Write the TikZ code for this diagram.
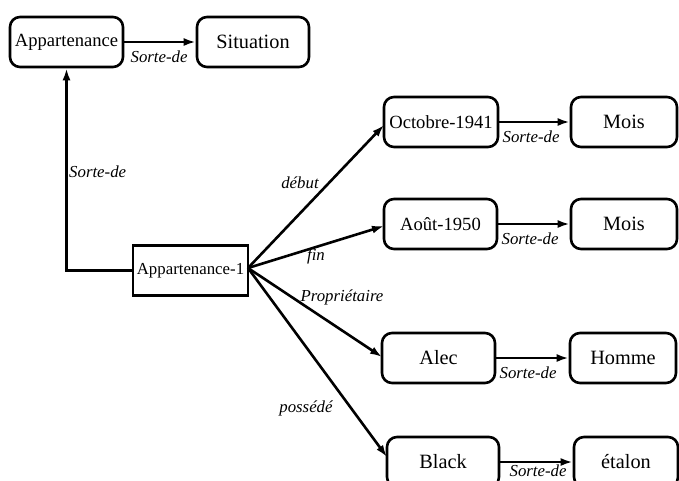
\documentclass[tikz,border=0pt]{standalone}
\usepackage{fontspec}
\setmainfont{Liberation Serif}
\usetikzlibrary{arrows.meta}
\begin{document}
\begin{tikzpicture}[x=1pt,y=-1pt,
  box/.style={draw,line width=2.6pt,minimum height=50pt,inner sep=0pt},
  concept/.style={box,rounded corners=10pt},
  instance/.style={box},
  longtxt/.style={font=\fontsize{18.6}{20}\selectfont},
  shorttxt/.style={font=\fontsize{20.3}{22}\selectfont},
  rel/.style={line width=2.6pt,-{Latex[length=12pt,width=8pt]}},
  lbl/.style={font=\fontsize{16.8}{18}\selectfont\itshape,inner sep=0pt}]
\useasboundingbox (0,0) rectangle (679,480);
% concept and instance boxes
\node[concept,longtxt,minimum width=113pt] (app) at (66.5,42) {Appartenance};
\node[concept,shorttxt,minimum width=112pt] (sit) at (253,42) {Situation};
\node[instance,font=\fontsize{16.8}{18}\selectfont,minimum width=115pt] (a1) at (190.5,270.5) {Appartenance-1};
\node[concept,longtxt,minimum width=114pt] (oct) at (441,122) {Octobre-1941};
\node[concept,shorttxt,minimum width=106pt] (mois1) at (624,122) {Mois};
\node[concept,longtxt,minimum width=113pt] (aout) at (440.5,224) {Août-1950};
\node[concept,shorttxt,minimum width=106pt] (mois2) at (624,224) {Mois};
\node[concept,shorttxt,minimum width=113pt] (alec) at (438.5,358) {Alec};
\node[concept,shorttxt,minimum width=106pt] (homme) at (623,358) {Homme};
\node[concept,shorttxt,minimum width=112pt] (black) at (443,462) {Black};
\node[concept,shorttxt,minimum width=104pt] (etalon) at (626,462) {étalon};
% kind-of links
\draw[rel] (app) -- (sit) node[lbl,at start,anchor=north west,xshift=5pt,yshift=-8pt] {Sorte-de};
\draw[rel] (a1.west) -| (app.south);
\node[lbl,anchor=west] (sv) at (69,172) {Sorte-de};
\draw[rel] (oct) -- (mois1) node[lbl,at start,anchor=north west,xshift=2pt,yshift=-8pt] {Sorte-de};
\draw[rel] (aout) -- (mois2) node[lbl,at start,anchor=north west,xshift=2pt,yshift=-8pt] {Sorte-de};
\draw[rel] (alec) -- (homme) node[lbl,at start,anchor=north west,xshift=2pt,yshift=-8pt] {Sorte-de};
\draw[rel] (black) -- (etalon) node[lbl,at start,anchor=north west,xshift=8pt,yshift=-2pt] {Sorte-de};
% role links
\coordinate (hub) at (248,268);
\draw[rel] (hub) -- (384,125);
\draw[rel] (hub) -- (384,226);
\draw[rel] (hub) -- (382,357);
\draw[rel] (hub) -- (387,457);
\node[lbl] (ldebut) at (300,183) {début};
\node[lbl] (lfin) at (316,256) {fin};
\node[lbl] (lprop) at (342,297) {Propriétaire};
\node[lbl] (lposs) at (306,408) {possédé};
\end{tikzpicture}
\end{document}
